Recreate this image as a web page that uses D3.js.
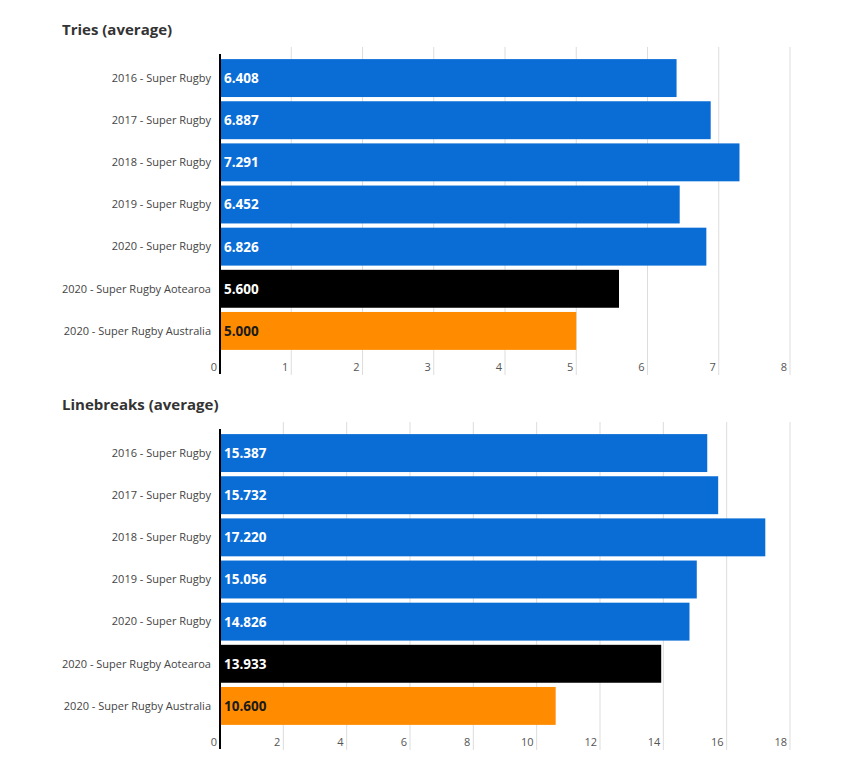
<!DOCTYPE html>
<html><head><meta charset="utf-8">
<script src="https://cdn.jsdelivr.net/npm/d3@7"></script>
<style>body{margin:0;background:#fff;font-family:"Open Sans",sans-serif;}</style>
</head><body>
<svg id="c" width="854" height="768"></svg>
<script>
const categories = ["2016 - Super Rugby","2017 - Super Rugby","2018 - Super Rugby","2019 - Super Rugby","2020 - Super Rugby","2020 - Super Rugby Aotearoa","2020 - Super Rugby Australia"];
const triesValues = [6.408, 6.887, 7.291, 6.452, 6.826, 5.600, 5.000];
const linebreaksValues = [15.387, 15.732, 17.220, 15.056, 14.826, 13.933, 10.600];
const triesTicks = [0,1,2,3,4,5,6,7,8];
const linebreaksTicks = [0,2,4,6,8,10,12,14,16,18];
const barColors = ["#0a6dd6","#0a6dd6","#0a6dd6","#0a6dd6","#0a6dd6","#000000","#ff8c00"];
const labelColors = ["#fff","#fff","#fff","#fff","#fff","#fff","#1a1a1a"];

const svg = d3.select("#c");

function drawChart(title, values, ticks, yOff) {
  const g = svg.append("g").attr("transform", `translate(0,${yOff})`);
  const x = d3.scaleLinear().domain([0, ticks[ticks.length-1]]).range([220, 790]);
  const y = d3.scaleBand().domain(categories).range([57, 352]).paddingInner(0.1).paddingOuter(0.05);

  g.append("text").attr("x", 62).attr("y", 35).text(title)
    .attr("font-size", 15).attr("font-weight", "bold").attr("fill", "#333");

  g.selectAll(".grid").data(ticks.slice(1)).join("line")
    .attr("x1", d => x(d)).attr("x2", d => x(d))
    .attr("y1", 47).attr("y2", 375)
    .attr("stroke", "#dddddd").attr("stroke-width", 1);

  g.selectAll(".bar").data(values).join("rect")
    .attr("x", x(0)).attr("y", (d,i) => y(categories[i]))
    .attr("width", d => x(d) - x(0)).attr("height", y.bandwidth())
    .attr("fill", (d,i) => barColors[i]);

  g.selectAll(".val").data(values).join("text")
    .attr("x", x(0) + 4).attr("y", (d,i) => y(categories[i]) + y.bandwidth()/2)
    .attr("dy", "0.36em")
    .attr("font-size", 13.5).attr("font-weight", "bold")
    .attr("fill", (d,i) => labelColors[i])
    .text(d => d3.format(".3f")(d));

  g.selectAll(".cat").data(categories).join("text")
    .attr("x", 211).attr("y", d => y(d) + y.bandwidth()/2)
    .attr("dy", "0.35em").attr("text-anchor", "end")
    .attr("font-size", 11).attr("fill", "#444")
    .text(d => d);

  g.selectAll(".tick").data(ticks).join("text")
    .attr("x", d => x(d) - 3).attr("y", 367)
    .attr("dy", "0.35em").attr("text-anchor", "end")
    .attr("font-size", 11).attr("fill", "#555")
    .text(d => d);

  g.append("line").attr("x1", x(0)).attr("x2", x(0))
    .attr("y1", 54).attr("y2", 374)
    .attr("stroke", "#000").attr("stroke-width", 2);
}

drawChart("Tries (average)", triesValues, triesTicks, 0);
drawChart("Linebreaks (average)", linebreaksValues, linebreaksTicks, 375);
</script>
</body></html>
